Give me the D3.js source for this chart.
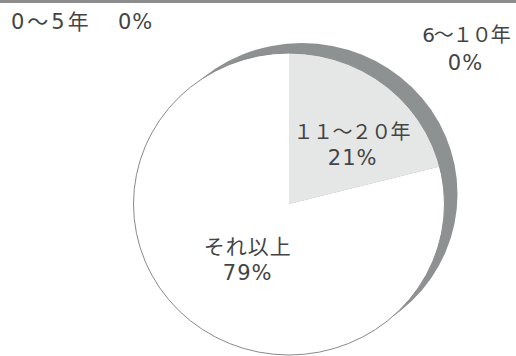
<!DOCTYPE html>
<html>
<head>
<meta charset="utf-8">
<script src="https://cdn.jsdelivr.net/npm/d3@7"></script>
<style>
  html, body { margin: 0; padding: 0; background: #fff; }
  svg { display: block; }
  text { font-family: "DejaVu Sans", "Noto Sans CJK JP", sans-serif; fill: #444; }
</style>
</head>
<body>
<svg id="chart" width="516" height="356"></svg>
<script>
// Years of experience breakdown
const categories = ["0～5年", "6～１０年", "１１～２０年", "それ以上"];
const values = [0, 0, 21, 79];
const valueLabels = ["0%", "0%", "21%", "79%"];
const colors = ["#f2f3f3", "#8d9191", "#e5e7e7", "#ffffff"];

const W = 516, H = 356;
const cx = 289, cy = 204;      // pie centre
const rx = 155.5, ry = 151;    // slightly squashed disc

// type settings for the category names (size, letter spacing)
const catFont = [[21, 3], [20, -1], [20, -0.6], [21, 1]];
const valFont = [21, 1];

const svg = d3.select("#chart");

// top rule
svg.append("rect").attr("x", 0).attr("y", 0).attr("width", W).attr("height", 3)
  .attr("fill", "#8c8c8c");

const pie = d3.pie().sort(null).value(d => d)(values);
const arc = d3.arc().innerRadius(0).outerRadius(1);

// drop shadow disc behind the pie
svg.append("ellipse")
  .attr("cx", cx + 13).attr("cy", cy - 10)
  .attr("rx", rx).attr("ry", ry)
  .attr("fill", "#8d9191");

const g = svg.append("g")
  .attr("transform", `translate(${cx},${cy}) scale(${rx},${ry})`);

g.selectAll("path.slice")
  .data(pie.filter(d => d.endAngle > d.startAngle))
  .join("path")
  .attr("class", "slice")
  .attr("d", arc)
  .attr("fill", d => colors[d.index])
  .attr("stroke", "none");

// outline of the disc
g.append("path")
  .attr("d", d3.arc().innerRadius(0).outerRadius(1).startAngle(0).endAngle(2 * Math.PI)())
  .attr("fill", "none")
  .attr("stroke", "#8a8a8a")
  .attr("stroke-width", 1)
  .attr("vector-effect", "non-scaling-stroke");

function label(x, y, str, font, anchor) {
  return svg.append("text")
    .attr("x", x).attr("y", y)
    .attr("text-anchor", anchor || "middle")
    .attr("font-size", font[0])
    .attr("letter-spacing", font[1])
    .text(str);
}

// labels inside the non-zero slices, placed along each slice's mid angle
const labelR = { 2: 88, 3: 68 };
const nudge = { 2: [9, 6], 3: [0, 1] };
pie.forEach(d => {
  if (d.value === 0) return;
  const a = (d.startAngle + d.endAngle) / 2;
  const r = labelR[d.index];
  const x = cx + Math.sin(a) * r * rx / 155 + nudge[d.index][0];
  const y = cy - Math.cos(a) * r * ry / 155 + nudge[d.index][1];
  const f = catFont[d.index];
  label(x + f[1] / 2, y - 3, categories[d.index], f);
  label(x + valFont[1] / 2, y + 23, valueLabels[d.index], valFont);
});

// outside labels for the empty slices
label(11, 29, categories[0], catFont[0], "start");
label(118, 29, valueLabels[0], valFont, "start");

label(466, 42, categories[1], catFont[1]);
label(465 + valFont[1] / 2, 70, valueLabels[1], valFont);
</script>
</body>
</html>
